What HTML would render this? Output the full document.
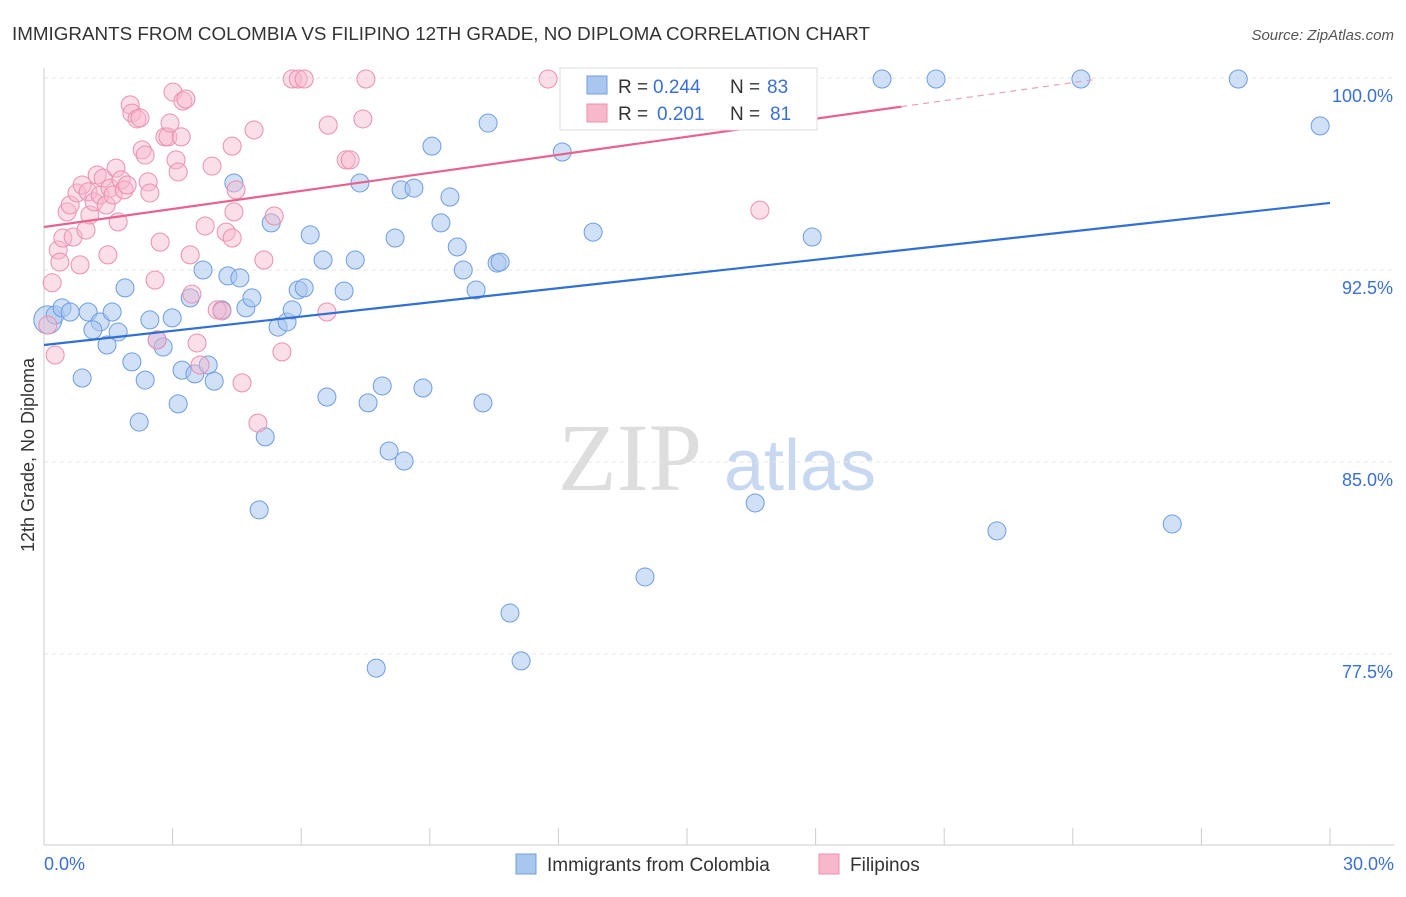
<!DOCTYPE html>
<html><head><meta charset="utf-8"><style>
body{margin:0;background:#fff;font-family:"Liberation Sans",sans-serif;}
</style></head><body>
<svg id="chart" width="1406" height="892" xmlns="http://www.w3.org/2000/svg">
<text x="12" y="40" font-size="18" fill="#333" textLength="858" lengthAdjust="spacingAndGlyphs">IMMIGRANTS FROM COLOMBIA VS FILIPINO 12TH GRADE, NO DIPLOMA CORRELATION CHART</text>
<text x="1394" y="40" font-size="15" fill="#555" font-style="italic" text-anchor="end">Source: ZipAtlas.com</text>
<text x="34" y="455" font-size="18" fill="#333" transform="rotate(-90 34 455)" text-anchor="middle">12th Grade, No Diploma</text>
<text x="630" y="490" font-size="96" fill="#ddd" font-family="Liberation Serif,serif" text-anchor="middle">ZIP</text>
<text x="800" y="490" font-size="72" fill="#c8d8f0" text-anchor="middle">atlas</text>
<g id="grid"></g><g id="axes"></g><g id="pts"></g><g id="trend"></g>
<g>
<rect x="560" y="68" width="257" height="62" fill="#fff" stroke="#ddd"/>
<rect x="587" y="76" width="20" height="18" fill="#a9c6ef" stroke="#6f9de3"/>
<text x="618" y="93" font-size="19" fill="#333">R =</text>
<text x="653" y="93" font-size="19" fill="#3a6fd8">0.244</text>
<text x="730" y="93" font-size="19" fill="#333">N =</text>
<text x="767" y="93" font-size="19" fill="#3a6fd8">83</text>
<rect x="587" y="104" width="20" height="18" fill="#f7b8cb" stroke="#ec8fae"/>
<text x="618" y="120" font-size="19" fill="#333">R =</text>
<text x="657" y="120" font-size="19" fill="#3a6fd8">0.201</text>
<text x="730" y="120" font-size="19" fill="#333">N =</text>
<text x="770" y="120" font-size="19" fill="#3a6fd8">81</text>
</g>
<g>
<rect x="516" y="854" width="20" height="20" fill="#a9c6ef" stroke="#6f9de3"/>
<text x="547" y="871" font-size="19" fill="#333">Immigrants from Colombia</text>
<rect x="819" y="854" width="20" height="20" fill="#f7b8cb" stroke="#ec8fae"/>
<text x="850" y="871" font-size="19" fill="#333">Filipinos</text>
</g>
</svg>
<script>
const yTicks=[100,92.5,85,77.5];
const yTickLabels=["100.0%","92.5%","85.0%","77.5%"];
const xLabels=["0.0%","30.0%"];
const blueX=[0.09,0.26,0.42,0.61,1.03,1.31,1.14,1.47,0.89,1.59,1.73,1.89,2.05,2.22,2.36,2.47,2.64,2.78,2.99,3.13,3.22,3.41,3.52,3.71,3.83,3.97,4.15,4.29,4.43,4.57,4.71,4.85,5.02,5.16,5.30,5.46,5.67,5.79,5.93,6.07,6.21,6.51,6.60,7.00,7.26,7.37,7.56,7.89,8.05,8.19,8.33,8.40,8.63,8.84,9.05,9.26,9.47,9.64,9.78,10.08,10.24,10.57,10.64,10.36,10.87,11.13,7.75,12.09,12.81,14.02,16.59,17.92,19.55,20.81,22.23,24.19,26.32,27.86,29.77,13.81,15.31];
const blueY=[90.55,90.74,91.02,90.86,90.86,90.47,90.16,89.57,88.28,90.86,90.08,91.80,88.91,86.56,88.20,90.55,89.77,89.49,90.63,87.27,88.59,91.41,88.44,92.50,88.79,88.16,90.94,92.27,95.90,92.19,91.02,91.41,83.13,85.98,94.34,90.27,90.47,90.94,91.72,91.80,93.87,92.89,87.54,91.68,92.89,95.90,87.31,87.97,85.43,93.75,95.63,85.04,95.70,87.89,97.34,94.34,95.35,93.40,92.50,91.72,87.31,92.77,92.81,98.24,79.10,77.23,76.95,97.11,93.98,80.51,83.40,93.79,99.96,99.96,82.31,99.96,82.58,99.96,98.13,99.96,99.96];
const pinkX=[0.09,0.19,0.26,0.33,0.37,0.44,0.54,0.61,0.68,0.77,0.84,0.89,0.98,1.03,1.07,1.17,1.24,1.31,1.38,1.45,1.49,1.54,1.61,1.68,1.73,1.80,1.87,1.94,2.01,2.05,2.17,2.24,2.29,2.36,2.43,2.47,2.59,2.64,2.71,2.82,2.89,2.94,3.01,3.08,3.13,3.20,3.24,3.31,3.41,3.45,3.57,3.64,3.76,3.92,4.04,4.15,4.25,4.39,4.48,4.43,4.62,4.90,4.99,5.13,5.37,5.55,5.79,5.93,6.07,6.63,6.60,7.05,7.14,7.44,7.51,11.76,16.70,4.39];
const pinkY=[90.35,92.0,89.18,93.28,92.81,93.75,94.77,95.04,93.79,95.51,92.70,95.82,94.06,95.55,94.65,95.16,96.21,95.43,96.09,95.04,93.09,95.70,95.43,96.48,94.38,96.02,95.63,95.82,98.95,98.63,98.40,98.44,97.19,96.99,95.94,95.51,92.11,89.77,93.59,97.70,97.70,98.24,99.45,96.80,96.33,97.70,99.10,99.18,93.09,91.56,89.65,88.79,94.22,96.56,90.94,90.90,93.98,97.34,95.63,94.77,88.09,97.97,86.52,92.89,94.61,89.30,99.96,99.96,99.96,98.16,90.86,96.80,96.80,98.40,99.96,99.96,94.84,93.75];
const blueTrend=[89.57,95.12];
const pinkTrend=[94.18,101.23];
const X=v=>44+v/30*1286, Y=v=>78+(100-v)/7.5*192;
const NS="http://www.w3.org/2000/svg";
function mk(tag,attrs,parent){const e=document.createElementNS(NS,tag);for(const k in attrs)e.setAttribute(k,attrs[k]);document.getElementById(parent).appendChild(e);return e;}
yTicks.forEach((t,i)=>{
 const l=mk('line',{x1:44,x2:1394,y1:Y(t),y2:Y(t),stroke:'#e4e4e4','stroke-dasharray':'4,4'},'grid');
 
 
 const tx=mk('text',{x:1393,y:Y(t)+24,'font-size':18,fill:'#3a6fd8','text-anchor':'end'},'grid');
 tx.textContent=yTickLabels[i];
 
 
});
const ax=mk('line',{x1:44,x2:1394,y1:845,y2:845,stroke:'#ccc'},'axes');


const ay=mk('line',{x1:44,x2:44,y1:68,y2:845,stroke:'#ccc'},'axes');


for(let i=0;i<=10;i++){const t=mk('line',{x1:X(i*3),x2:X(i*3),y1:828,y2:845,stroke:'#ccc'},'axes');
 
 }
xLabels.forEach((s,i)=>{const t=mk('text',{x:i?1394:44,y:870,'font-size':18,fill:'#3a6fd8','text-anchor':i?'end':'start'},'axes');t.textContent=s;
 
 });
blueX.forEach((x,i)=>{const c=mk('circle',{cx:X(x),cy:Y(blueY[i]),r:i===0?14:9,fill:'#a9c6ef','fill-opacity':0.55,stroke:'#6f9de3','stroke-width':1},'pts');
 
 });
pinkX.forEach((x,i)=>{const c=mk('circle',{cx:X(x),cy:Y(pinkY[i]),r:9,fill:'#f7b8cb','fill-opacity':0.45,stroke:'#ec8fae','stroke-width':1},'pts');
 
 });
const bl=mk('line',{x1:X(0),y1:Y(blueTrend[0]),x2:X(30),y2:Y(blueTrend[1]),stroke:'#2f6fd6','stroke-width':2.2},'trend');


const pe=20, pv=pinkTrend[0]+(pinkTrend[1]-pinkTrend[0])*pe/30, pd=24.5, pvd=pinkTrend[0]+(pinkTrend[1]-pinkTrend[0])*pd/30;
const pl=mk('line',{x1:X(0),y1:Y(pinkTrend[0]),x2:X(pe),y2:Y(pv),stroke:'#e8628e','stroke-width':2.2},'trend');


const pdl=mk('line',{x1:X(pe),y1:Y(pv),x2:X(pd),y2:Y(pvd),stroke:'#e8a0b8','stroke-width':1.2,'stroke-dasharray':'6,5'},'trend');


</script>
</body></html>
